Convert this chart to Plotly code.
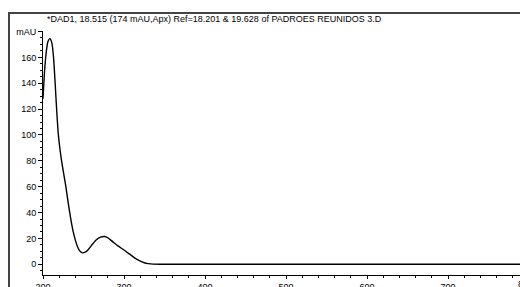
import plotly.graph_objects as go

wavelength = [200, 202, 204, 206, 208.5, 211, 213, 215, 217, 219, 222, 225, 228, 231, 234, 237,
              240, 243, 246, 249, 252, 256, 261, 266, 271, 276, 280, 286, 293, 300, 307, 313,
              319, 325, 330, 336, 345, 400, 500, 600, 700, 800]
absorbance = [128, 150, 164, 172, 174.5, 171, 160, 140, 118, 100, 84, 72, 61, 48, 36, 26,
              18.5, 13, 9.8, 8.8, 9.3, 11.5, 15.5, 19, 21, 21.5, 20.5, 17.5, 14, 11, 7.8, 5,
              2.8, 1.2, 0.5, 0.1, 0, 0, 0, 0, 0, 0]

title_text = "*DAD1, 18.515 (174 mAU,Apx) Ref=18.201 & 19.628 of PADROES REUNIDOS 3.D"
y_tickvals = [0, 20, 40, 60, 80, 100, 120, 140, 160, 180]
y_ticktext = ["0", "20", "40", "60", "80", "100", "120", "140", "160", "mAU"]
x_tickvals = [200, 300, 400, 500, 600, 700]

W, H = 520, 287
L, T, R, B = 43, 31, 0, 12
pw = W - L - R

fig = go.Figure()
fig.add_trace(go.Scatter(
    x=wavelength, y=absorbance, mode="lines",
    line=dict(color="black", width=1.4, shape="spline", smoothing=0.6),
    hoverinfo="skip", showlegend=False, xaxis="x", yaxis="y",
))
# decorative page frame (left and top border of the report page), in pixel coordinates
fig.add_trace(go.Scatter(
    x=[9, 9, 530], y=[300, 13, 13], mode="lines",
    line=dict(color="#444444", width=2),
    hoverinfo="skip", showlegend=False, xaxis="x2", yaxis="y2",
))

font = dict(family="Liberation Sans, Arial, sans-serif", size=9, color="black")

fig.update_layout(
    width=W, height=H,
    margin=dict(l=0, r=0, t=0, b=0, pad=0, autoexpand=False),
    paper_bgcolor="white", plot_bgcolor="rgba(0,0,0,0)",
    font=font,
    xaxis=dict(
        domain=[L / W, 1 - R / W],
        range=[200, 200 + pw / 0.81], showgrid=False, zeroline=False, automargin=False,
        showline=True, linecolor="black", linewidth=1, anchor="y",
        tickmode="array", tickvals=x_tickvals, ticks="outside", ticklen=3,
        tickcolor="black", tickfont=font,
        minor=dict(dtick=20, ticks="outside", ticklen=2, tickcolor="black", showgrid=False),
    ),
    yaxis=dict(
        domain=[B / H, 1 - T / H],
        range=[-8.3, 180.4], showgrid=False, zeroline=False, automargin=False,
        showline=True, linecolor="black", linewidth=1, anchor="x",
        tickmode="array", tickvals=y_tickvals, ticktext=y_ticktext,
        ticks="outside", ticklen=4, tickcolor="black", tickfont=font,
        minor=dict(dtick=5, tick0=0, ticks="outside", ticklen=2, tickcolor="black", showgrid=False),
    ),
    xaxis2=dict(domain=[0, 1], range=[0, W], visible=False, fixedrange=True, anchor="y2"),
    yaxis2=dict(domain=[0, 1], range=[H, 0], visible=False, fixedrange=True, anchor="x2"),
    shapes=[
        dict(type="line", xref="paper", yref="paper", layer="above",
             x0=9 / W, x1=9 / W, y0=1 - 13 / H, y1=0,
             line=dict(color="#444444", width=2)),
        dict(type="line", xref="paper", yref="paper", layer="above",
             x0=9 / W, x1=1, y0=1 - 13 / H, y1=1 - 13 / H,
             line=dict(color="#444444", width=2)),
    ],
    annotations=[
        dict(text=title_text, xref="paper", yref="paper", x=45 / W, y=1 - 19 / H,
             xanchor="left", yanchor="middle", showarrow=False, font=font),
        dict(text="800", xref="paper", yref="paper", x=516 / W, y=1 - 284 / H,
             xanchor="left", yanchor="middle", showarrow=False, font=font),
    ],
)

fig.write_html(
    "out.html",
    config={"displayModeBar": False},
    post_script="document.body.style.margin='0';document.body.style.overflow='hidden';",
)
